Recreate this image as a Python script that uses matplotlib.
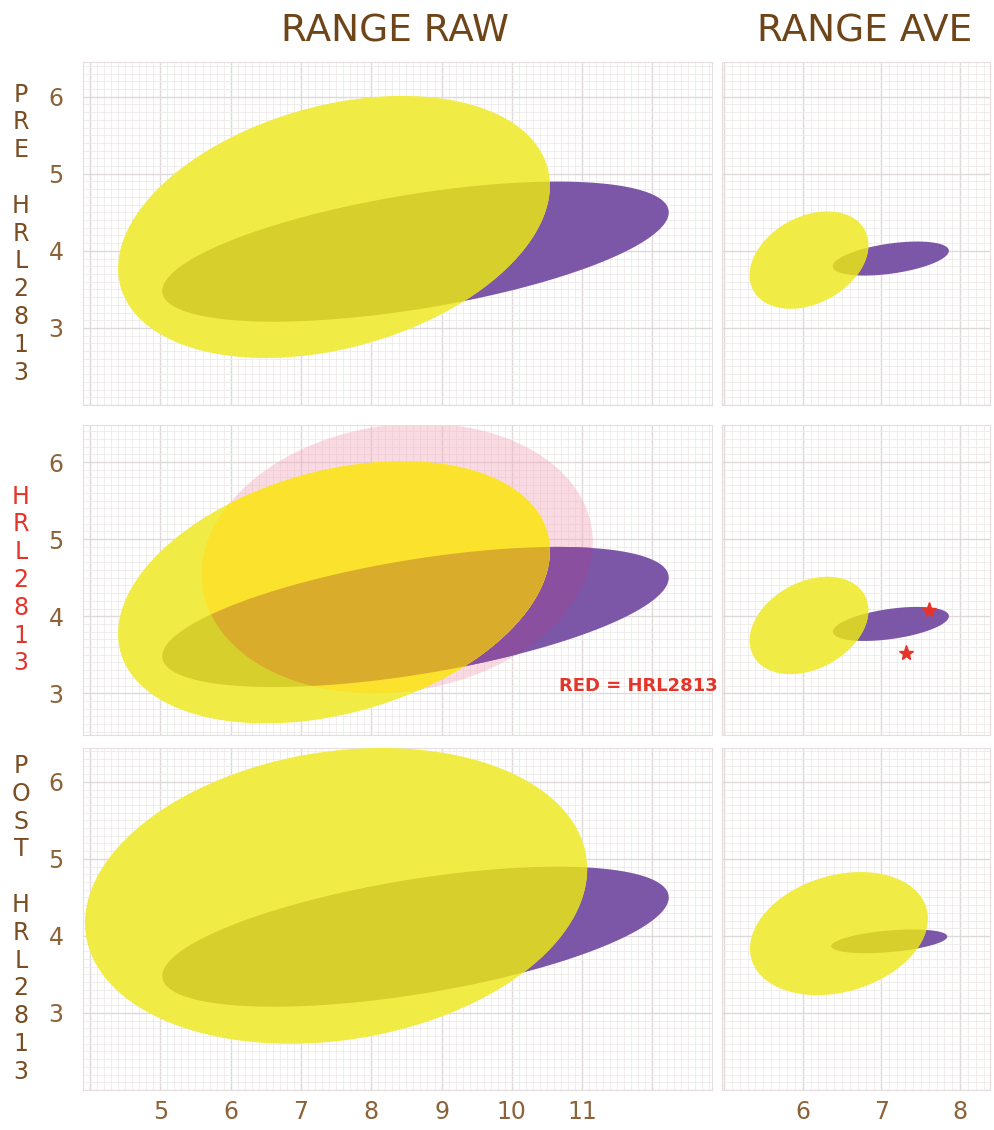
import numpy as np
import matplotlib
matplotlib.use("Agg")
import matplotlib.pyplot as plt
from matplotlib.ticker import MultipleLocator, FuncFormatter

# ellipses: centre x, centre y, width, height, angle (deg)
raw_yellow = (7.47, 4.31, 6.27, 3.16, 13.4)
raw_purple = (8.63, 3.99, 7.28, 1.49, 8.4)
raw_pink = (8.37, 4.75, 5.59, 3.46, 7.0)
raw_post_yellow = (7.50, 4.52, 7.19, 3.75, 7.7)
ave_yellow = (6.08, 3.88, 1.62, 1.12, 30.0)
ave_purple = (7.12, 3.90, 1.49, 0.39, 8.3)
ave_post_yellow = (6.46, 4.03, 2.32, 1.51, 17.3)
ave_post_purple = (7.10, 3.93, 1.48, 0.28, 5.0)
star_x = [7.60, 7.31]
star_y = [4.08, 3.52]

raw_xticks = [5, 6, 7, 8, 9, 10, 11]
ave_xticks = [6, 7, 8]
yticks = [3, 4, 5, 6]

row_labels = ["P\nR\nE\n\nH\nR\nL\n2\n8\n1\n3",
              "H\nR\nL\n2\n8\n1\n3",
              "P\nO\nS\nT\n\nH\nR\nL\n2\n8\n1\n3"]

YEL = '#f1eb45'
PUR = '#7d57a7'
YEL_PUR = '#d6cf2c'
PINK = '#f2a9bd'
PUR_PINK = '#8a4f9f'
YEL_PINK = '#fbe22d'
TRIPLE = '#d9ac2b'
BROWN = '#7a4d22'
TICK = '#8c6239'
RED = '#e5342a'


def ell(p, n=240):
    cx, cy, w, h, ang = p
    t = np.linspace(0, 2 * np.pi, n, endpoint=False)
    th = np.radians(ang)
    a, b = w / 2, h / 2
    x = cx + a * np.cos(t) * np.cos(th) - b * np.sin(t) * np.sin(th)
    y = cy + a * np.cos(t) * np.sin(th) + b * np.sin(t) * np.cos(th)
    return np.column_stack([x, y])


def cross(u, v):
    return u[0] * v[1] - u[1] * v[0]


def clip(subj, clp):
    # convex polygon intersection (Sutherland-Hodgman)
    out = list(subj)
    for i in range(len(clp)):
        a, b = clp[i], clp[(i + 1) % len(clp)]
        inp, out = out, []
        if not inp:
            break
        s = inp[-1]
        for p in inp:
            pin = cross(b - a, p - a) >= 0
            sin_ = cross(b - a, s - a) >= 0
            if pin != sin_:
                d = p - s
                e = b - a
                tt = cross(a - s, e) / cross(d, e)
                out.append(s + tt * d)
            if pin:
                out.append(p)
            s = p
    return np.array(out)


def fill(ax, poly, color, alpha=1.0, z=2):
    if len(poly) > 2:
        ax.fill(poly[:, 0], poly[:, 1], color=color, alpha=alpha, lw=0, zorder=z)


def setup(ax, xlim, ylim, xt, show_x, show_y):
    ax.set_xlim(*xlim)
    ax.set_ylim(*ylim)
    ax.xaxis.set_major_locator(MultipleLocator(1))
    ax.yaxis.set_major_locator(MultipleLocator(1))
    ax.xaxis.set_minor_locator(MultipleLocator(0.1))
    ax.yaxis.set_minor_locator(MultipleLocator(0.1))
    ax.grid(which='major', color='#e0d9d9', linewidth=1.0, zorder=0)
    ax.grid(which='minor', color='#efeaea', linewidth=0.6, zorder=0)
    ax.set_axisbelow(True)
    ax.xaxis.set_major_formatter(FuncFormatter(
        lambda v, pos: f"{int(round(v))}" if show_x and round(v) in xt and abs(v - round(v)) < 1e-6 else ""))
    ax.yaxis.set_major_formatter(FuncFormatter(
        lambda v, pos: f"{int(round(v))}" if show_y and round(v) in yticks and abs(v - round(v)) < 1e-6 else ""))
    ax.tick_params(which='both', length=0, labelsize=17, labelcolor=TICK)
    ax.tick_params(axis='y', pad=14)
    ax.tick_params(axis='x', pad=7)
    for s in ax.spines.values():
        s.set_color('#e6dede')
        s.set_linewidth(0.8)


def draw_pair(ax, yel, pur):
    Y, P = ell(yel), ell(pur)
    fill(ax, P, PUR, z=2)
    fill(ax, Y, YEL, z=3)
    fill(ax, clip(Y, P), YEL_PUR, z=4)


fig = plt.figure(figsize=(9.94, 11.3), dpi=100)

rows = [(0.6416, 0.3035, (2.0, 6.45)),
        (0.3496, 0.2743, (2.46, 6.48)),
        (0.0354, 0.3027, (2.0, 6.44))]
left_x = (0.0835, 0.633)
right_x = (0.726, 0.270)

axes = []
for i, (b, h, yl) in enumerate(rows):
    axl = fig.add_axes([left_x[0], b, left_x[1], h])
    axr = fig.add_axes([right_x[0], b, right_x[1], h])
    setup(axl, (3.9, 12.85), yl, raw_xticks, i == 2, True)
    setup(axr, (4.97, 8.38), yl, ave_xticks, i == 2, False)
    axes.append((axl, axr))

# PRE
draw_pair(axes[0][0], raw_yellow, raw_purple)
draw_pair(axes[0][1], ave_yellow, ave_purple)

# HRL2813
ax = axes[1][0]
Y, P, K = ell(raw_yellow), ell(raw_purple), ell(raw_pink)
fill(ax, K, PINK, alpha=0.42, z=1)
fill(ax, P, PUR, z=2)
fill(ax, clip(P, K), PUR_PINK, z=3)
fill(ax, Y, YEL, z=4)
fill(ax, clip(Y, P), YEL_PUR, z=5)
fill(ax, clip(Y, K), YEL_PINK, z=6)
fill(ax, clip(clip(Y, P), K), TRIPLE, z=7)
ax.text(10.67, 3.1, "RED = HRL2813", color=RED, fontsize=13,
        fontweight='bold', ha='left', va='center', zorder=8)
draw_pair(axes[1][1], ave_yellow, ave_purple)
axes[1][1].plot(star_x, star_y, ls='none', marker='*', ms=11, color=RED, zorder=8)

# POST
draw_pair(axes[2][0], raw_post_yellow, raw_purple)
draw_pair(axes[2][1], ave_post_yellow, ave_post_purple)

fig.text(0.397, 0.972, "RANGE RAW", fontsize=27, color='#6e4519', ha='center', va='center')
fig.text(0.870, 0.972, "RANGE AVE", fontsize=27, color='#6e4519', ha='center', va='center')

label_colors = [BROWN, RED, BROWN]
for (b, h, yl), txt, c in zip(rows, row_labels, label_colors):
    fig.text(0.021, b + h / 2, txt, fontsize=17, color=c, ha='center',
             va='center', linespacing=1.2)

fig.savefig("out.png", dpi=100, facecolor='white')
